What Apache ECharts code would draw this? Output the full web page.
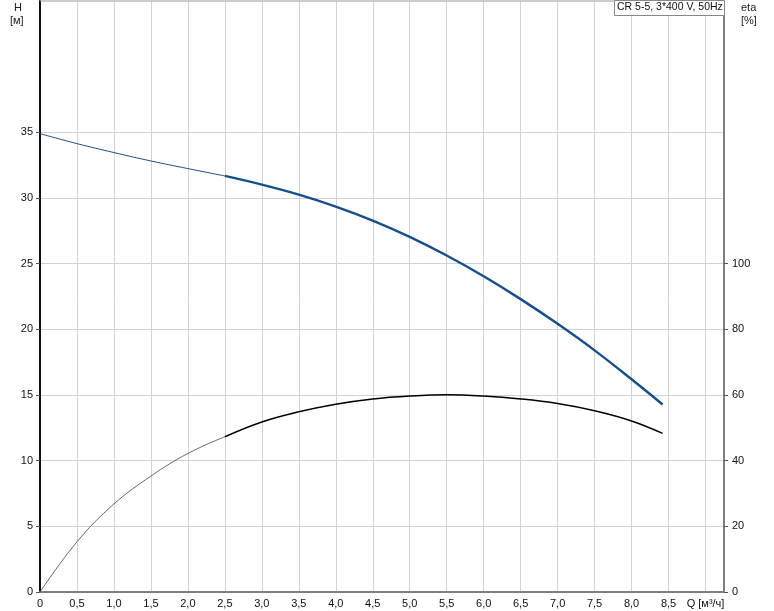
<!DOCTYPE html>
<html>
<head>
<meta charset="utf-8">
<script src="https://cdn.jsdelivr.net/npm/echarts@6/dist/echarts.min.js"></script>
<style>
html,body{margin:0;padding:0;background:#fff;}
#c{width:774px;height:611px;}
</style>
</head>
<body>
<div id="c"></div>
<script>
// Flow Q [m3/h]
var qThin = [0, 0.5, 1.0, 1.5, 2.0, 2.5];
var qThick = [2.5, 3.0, 3.5, 4.0, 4.5, 5.0, 5.5, 6.0, 6.5, 7.0, 7.5, 8.0, 8.42];
// Head H [m]
var hThin = [34.9, 34.14, 33.46, 32.82, 32.24, 31.68];
var hThick = [31.68, 31.02, 30.26, 29.35, 28.28, 27.04, 25.62, 24.04, 22.30, 20.42, 18.40, 16.20, 14.28];
// Efficiency eta [%]
var etaThin = [0, 15.3, 26.8, 35.3, 42.2, 47.3];
var etaThick = [47.3, 51.8, 54.9, 57.2, 58.8, 59.7, 60.1, 59.7, 58.8, 57.4, 55.2, 52.1, 48.3];
// Tick labels
var hTicks = [0, 5, 10, 15, 20, 25, 30, 35];
var etaTicks = [0, 20, 40, 60, 80, 100];

var titleText = 'CR 5-5, 3*400 V, 50Hz';
var xAxisName = 'Q [м³/ч]';

function pairs(xs, ys){ return xs.map(function(x,i){ return [x, ys[i]]; }); }

var FONT = 'Liberation Sans, Arial, sans-serif';
var chart = echarts.init(document.getElementById('c'), null, {renderer:'canvas'});
chart.setOption({
  animation: false,
  backgroundColor: '#fff',
  grid: {left: 40, right: 50, top: 1, bottom: 19, containLabel: false},
  xAxis: {
    type: 'value', min: 0, max: 9.25, interval: 0.5,
    axisLine: {show: true, onZero: false, lineStyle: {color: '#7f7f7f', width: 2}},
    axisTick: {show: false},
    splitLine: {show: true, lineStyle: {color: '#d0d3d6', width: 1}},
    axisLabel: {
      color: '#111', fontSize: 11, fontFamily: FONT, margin: 6,
      formatter: function(v){
        var r = Math.round(v*2)/2;
        if (Math.abs(r - v) > 1e-6) return '';
        if (r === 0) return '0';
        if (r === 9) return xAxisName;
        return r.toFixed(1).replace('.', ',');
      }
    }
  },
  yAxis: [{
    type: 'value', min: 0, max: 45, interval: 5, position: 'left',
    axisLine: {show: true, onZero: false, lineStyle: {color: '#111', width: 2}},
    axisTick: {show: true, length: 4, customValues: hTicks, lineStyle: {color: '#555'}},
    splitLine: {show: true, lineStyle: {color: '#d0d3d6', width: 1}},
    axisLabel: {
      color: '#111', fontSize: 11, fontFamily: FONT, margin: 7,
      customValues: hTicks
    }
  }, {
    type: 'value', min: 0, max: 180, interval: 20, position: 'right',
    axisLine: {show: true, onZero: false, lineStyle: {color: '#7f7f7f', width: 2}},
    axisTick: {show: true, length: 4, customValues: etaTicks, lineStyle: {color: '#555'}},
    splitLine: {show: false},
    axisLabel: {
      color: '#111', fontSize: 11, fontFamily: FONT, margin: 8,
      customValues: etaTicks
    }
  }],
  series: [
    {type:'line', yAxisIndex:0, data: pairs(qThin, hThin), smooth: 0.4, showSymbol:false,
     lineStyle:{color:'#1a4f8e', width:1}},
    {type:'line', yAxisIndex:0, data: pairs(qThick, hThick), smooth: 0.4, showSymbol:false,
     lineStyle:{color:'#154f8f', width:2.4}},
    {type:'line', yAxisIndex:1, data: pairs(qThin, etaThin), smooth: 0.4, showSymbol:false,
     lineStyle:{color:'#444', width:0.8}},
    {type:'line', yAxisIndex:1, data: pairs(qThick, etaThick), smooth: 0.4, showSymbol:false,
     lineStyle:{color:'#000', width:1.5}}
  ],
  graphic: [
    {type:'text', left: 14, top: 2, style:{text:'H', font:'11px '+FONT, fill:'#222'}},
    {type:'text', left: 10, top: 15, style:{text:'[м]', font:'11px '+FONT, fill:'#222'}},
    {type:'text', left: 741, top: 2, style:{text:'eta', font:'11px '+FONT, fill:'#222'}},
    {type:'text', left: 741, top: 15, style:{text:'[%]', font:'11px '+FONT, fill:'#222'}},
    {type:'rect', shape:{x:614.5, y:0.5, width:110, height:15}, style:{fill:'#fff', stroke:'#888', lineWidth:1}, z:100},
    {type:'text', x: 617, y: 2, style:{text:titleText, font:'10.5px '+FONT, fill:'#111'}, z:101},
    {type:'line', shape:{x1:40, y1:1, x2:724, y2:1}, style:{stroke:'#9a9a9a', lineWidth:1}, z:50}
  ]
});
</script>
</body>
</html>
